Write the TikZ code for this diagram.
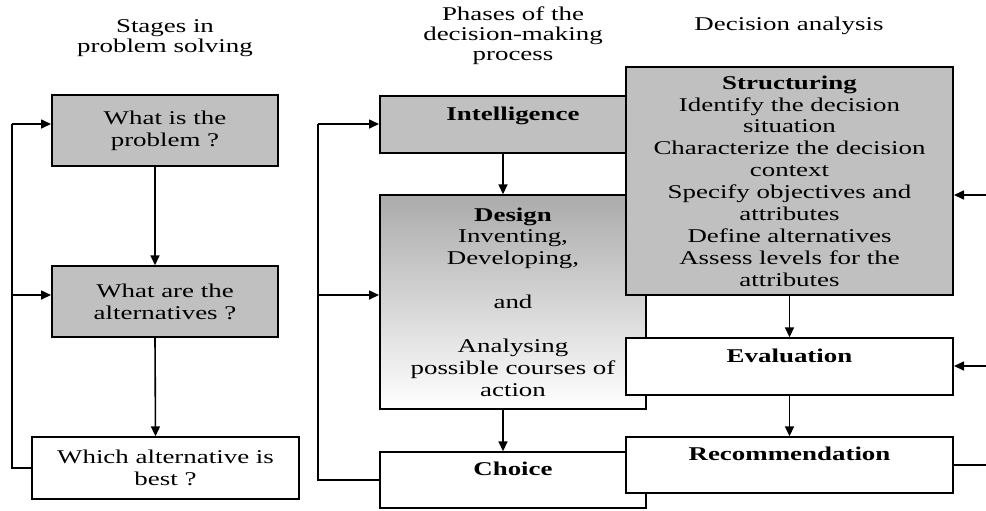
\documentclass[tikz,border=0pt]{standalone}
\usepackage{fontspec}
\setmainfont{Liberation Serif}
\usetikzlibrary{arrows.meta}
\definecolor{boxgray}{RGB}{192,192,192}

\begin{document}
\begin{tikzpicture}
  [x=0.5pt,y=-0.5pt,
   every node/.style={xscale=1.38,inner sep=0pt,align=center,
     font=\fontsize{9.75pt}{10.95pt}\selectfont},
   title/.style={font=\fontsize{9.75pt}{10pt}\selectfont},
   qbox/.style={draw,line width=.7pt,minimum width=81.9pt},
   pbox/.style={draw,line width=.7pt,minimum width=96.4pt},
   abox/.style={draw,line width=.7pt,minimum width=118.5pt},
   arr/.style={line width=.8pt,-{Triangle[length=5pt,width=4.5pt]}},
   link/.style={line width=.8pt}]
  \useasboundingbox (0,0) rectangle (986,510);

  % column titles
  \node[title] (t1) at (165,38)  {Stages in\\problem solving};
  \node[title] (t2) at (513,36)  {Phases of the\\decision-making\\process};
  \node[title] (t3) at (789,26)  {Decision analysis};

  % stages in problem solving
  \node[qbox,fill=boxgray,minimum height=35.5pt] (q1) at (165,130.5) {What is the\\problem ?};
  \node[qbox,fill=boxgray,minimum height=35.5pt] (q2) at (165,301.5) {What are the\\alternatives ?};
  \node[qbox,fill=white,minimum width=96.7pt,minimum height=31pt] (q3) at (165.5,468) {Which alternative is\\best ?};

  % phases of the decision-making process
  \node[pbox,fill=boxgray,minimum height=28.5pt] (intel) at (513,124.5) {\textbf{Intelligence}\\~};
  \node[pbox,top color=gray!66,bottom color=white,minimum height=107pt] (design) at (513,302)
    {\textbf{Design}\\Inventing,\\Developing,\\~\\and\\~\\Analysing\\possible courses of\\action};
  \node[pbox,fill=white,minimum height=28pt] (choice) at (513,480) {\textbf{Choice}\\~};

  % decision analysis
  \node[abox,fill=boxgray,minimum height=114pt] (struct) at (789.5,181)
    {\textbf{Structuring}\\Identify the decision\\situation\\Characterize the decision\\context\\Specify objectives and\\attributes\\Define alternatives\\Assess levels for the\\attributes};
  \node[abox,fill=white,minimum height=28.5pt] (eval) at (789.5,366.5) {\textbf{Evaluation}\\~};
  \node[abox,fill=white,minimum height=28pt] (recom) at (789.5,465) {\textbf{Recommendation}\\~};

  % feedback and outside points
  \coordinate (l1) at (12,124);
  \coordinate (l2) at (12,295);
  \coordinate (m1) at (318,124);
  \coordinate (m2) at (318,295);
  \coordinate (r1) at (986,195);
  \coordinate (r2) at (986,366);
  \coordinate (r3) at (986,466);

  \foreach \from/\to/\dx in {q1/q2/-5pt, q2/q3/-5pt, intel/design/-5pt, design/choice/-5pt, struct/eval/0pt, eval/recom/0pt}
    \draw[arr] ([xshift=\dx]\from.south) -- ([xshift=\dx]\to.north);

  \draw[link] (q3.west) -| (l1);
  \draw[arr] (l1) -- (l1 -| q1.west);
  \draw[arr] (l2) -- (l2 -| q2.west);
  \draw[link] (choice.west) -| (m1);
  \draw[arr] (m1) -- (m1 -| intel.west);
  \draw[arr] (m2) -- (m2 -| design.west);
  \draw[arr] (r1) -- (r1 -| struct.east);
  \draw[arr] (r2) -- (r2 -| eval.east);
  \draw[link] (recom.east) -- (recom.east -| r3);
\end{tikzpicture}
\end{document}
